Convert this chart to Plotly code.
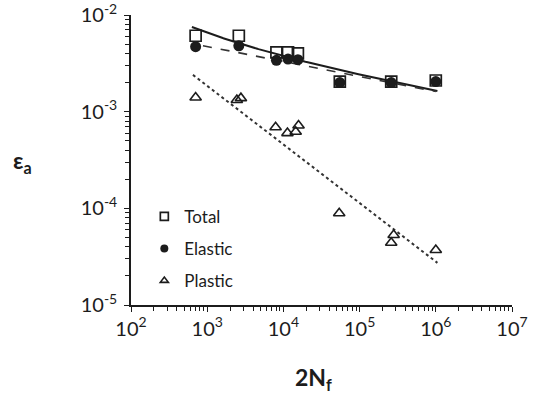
import numpy as np
import plotly.graph_objects as go

# ---- data ----
total_x = [705, 2600, 8100, 11500, 15500, 55000, 260000, 1000000]
total_y = [6.1e-3, 6.1e-3, 4.1e-3, 4.1e-3, 4.0e-3, 2.05e-3, 2.05e-3, 2.1e-3]

elastic_x = [705, 2600, 8100, 11500, 15500, 55000, 260000, 1000000]
elastic_y = [4.7e-3, 4.8e-3, 3.4e-3, 3.5e-3, 3.45e-3, 2.0e-3, 2.0e-3, 2.05e-3]

plastic_x = [705, 2450, 2770, 7900, 11300, 14500, 15800, 54000, 260000, 280000, 1000000]
plastic_y = [1.4e-3, 1.32e-3, 1.38e-3, 6.9e-4, 6.0e-4, 6.2e-4, 7.2e-4, 8.9e-5, 4.4e-5, 5.3e-5, 3.7e-5]

# fitted strain-life parameters: eps = coef * (2Nf)^exp
elastic_coef, elastic_exp = 0.01377, -0.155
plastic_coef, plastic_exp = 0.1216, -0.606
elastic_fit_range = [880, 1.0e6]
plastic_fit_range = [650, 1.05e6]
total_fit_range = [630, 1.05e6]

series_names = ["Total", "Elastic", "Plastic"]

x_tick_vals = [1e2, 1e3, 1e4, 1e5, 1e6, 1e7]
x_tick_text = ["10<sup>2</sup>", "10<sup>3</sup>", "10<sup>4</sup>", "10<sup>5</sup>", "10<sup>6</sup>", "10<sup>7</sup>"]
y_tick_vals = [1e-5, 1e-4, 1e-3, 1e-2]
y_tick_text = ["10<sup>-5</sup>", "10<sup>-4</sup>", "10<sup>-3</sup>", "10<sup>-2</sup>"]


def grid(rng):
    return np.logspace(np.log10(rng[0]), np.log10(rng[1]), 200)


def elastic(n):
    return elastic_coef * n ** elastic_exp


def plastic(n):
    return plastic_coef * n ** plastic_exp


FONT = "Lato"
INK = "#1c1c1c"

fig = go.Figure()

xe = grid(elastic_fit_range)
xp = grid(plastic_fit_range)
xt = grid(total_fit_range)

fig.add_trace(go.Scatter(x=xt, y=elastic(xt) + plastic(xt), mode="lines",
                         line=dict(color=INK, width=2), showlegend=False, hoverinfo="skip"))
fig.add_trace(go.Scatter(x=xe, y=elastic(xe), mode="lines",
                         line=dict(color="#333333", width=1.6, dash="dash"), showlegend=False, hoverinfo="skip"))
fig.add_trace(go.Scatter(x=xp, y=plastic(xp), mode="lines",
                         line=dict(color="#333333", width=2, dash="dot"), showlegend=False, hoverinfo="skip"))

styles = [
    dict(symbol="square-open", color=INK, line=dict(width=1.7)),
    dict(symbol="circle", color=INK),
    dict(symbol="triangle-up-open", color=INK, line=dict(width=1.6)),
]
data_sizes = [11, 11, 10]
legend_sizes = [8, 8, 7]
groups = ["t", "e", "p"]

for xs, ys, name, st, ds, ls, g in zip([total_x, elastic_x, plastic_x], [total_y, elastic_y, plastic_y],
                                       series_names, styles, data_sizes, legend_sizes, groups):
    fig.add_trace(go.Scatter(x=xs, y=ys, mode="markers", name=name, legendgroup=g, showlegend=False,
                             marker=dict(size=ds, **st)))
    fig.add_trace(go.Scatter(x=[None], y=[None], mode="markers", name=name, legendgroup=g, showlegend=True,
                             marker=dict(size=ls, **st)))

axis_common = dict(
    type="log", showgrid=False, zeroline=False, showline=True, linecolor=INK, linewidth=1.5,
    ticks="outside", ticklen=5, tickwidth=1.2, tickcolor=INK, automargin=False,
    ticklabeloverflow="allow",
    tickfont=dict(family=FONT, size=20, color=INK),
    minor=dict(ticks="outside", ticklen=4, tickwidth=1, tickcolor=INK, dtick="D1", showgrid=False),
)

fig.update_xaxes(range=[2, 7], tickvals=x_tick_vals, ticktext=x_tick_text, **axis_common)
fig.update_yaxes(range=[-5, -2], tickvals=y_tick_vals, ticktext=y_tick_text, ticklabelstandoff=3, **axis_common)

fig.add_annotation(text="<b>2N<sub>f</sub></b>", xref="paper", yref="paper", x=0.48, y=-0.255,
                   showarrow=False, font=dict(family=FONT, size=23, color=INK),
                   xanchor="center", yanchor="middle")
fig.add_annotation(text="<b>ε<sub>a</sub></b>", xref="paper", yref="paper", x=-0.285, y=0.495,
                   showarrow=False, font=dict(family=FONT, size=23, color=INK),
                   xanchor="center", yanchor="middle")

fig.update_layout(
    width=534, height=395,
    margin=dict(l=131, r=22, t=15, b=90),
    paper_bgcolor="white", plot_bgcolor="white",
    legend=dict(x=0.035, y=0.366, xanchor="left", yanchor="top", font=dict(family=FONT, size=17, color=INK),
                tracegroupgap=7, bgcolor="rgba(0,0,0,0)", itemwidth=30),
    showlegend=True,
)

fig.write_html("out.html", config={"displayModeBar": False},
               post_script="document.body.style.margin='0px';document.body.style.overflow='hidden';")
